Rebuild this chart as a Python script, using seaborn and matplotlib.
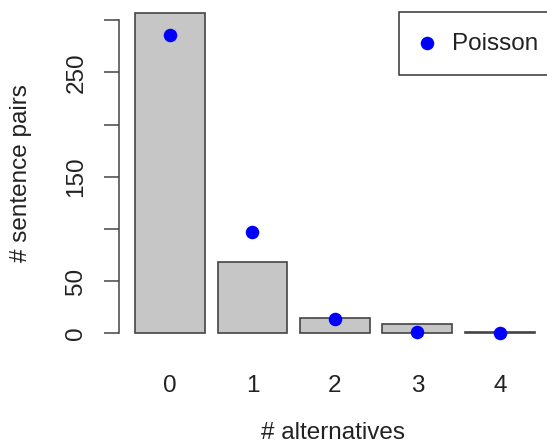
import matplotlib
matplotlib.use("Agg")
import matplotlib.pyplot as plt
import seaborn as sns
import pandas as pd

# ---- data ----
alternatives = ["0", "1", "2", "3", "4"]
observed = [307, 68, 14.5, 8.6, 1]
poisson = [286, 97, 14, 1.2, 0.1]
yticks = [0, 50, 100, 150, 200, 250, 300]
ytick_labels = ["0", "50", "", "150", "", "250", ""]

sns.set_style("white")
plt.rcParams["font.family"] = ["Liberation Sans", "DejaVu Sans"]

df_bar = pd.DataFrame({"alt": alternatives, "count": observed})
df_pts = pd.DataFrame({"alt": alternatives, "count": poisson})

W, H = 547, 446
fig = plt.figure(figsize=(W / 100, H / 100), dpi=100)
ax = fig.add_axes([119 / W, (H - 346) / H, 428 / W, 346 / H])

sns.barplot(data=df_bar, x="alt", y="count", order=alternatives, color="#c6c6c6",
            saturation=1, width=0.848, edgecolor="#444444", linewidth=1.2, ax=ax)
sns.scatterplot(data=df_pts, x="alt", y="count", color="#0000ff", s=95,
                linewidth=0, label="Poisson", ax=ax, zorder=5, legend=True)

ax.set_xlim(-0.618, 4.570)
ax.set_ylim(-12.2, 319.3)

for s in ["top", "right", "bottom"]:
    ax.spines[s].set_visible(False)
ax.spines["left"].set_bounds(0, 300)
ax.spines["left"].set_color("#444444")
ax.spines["left"].set_linewidth(1.1)

fs = 17.5
ax.set_yticks(yticks)
ax.set_yticklabels(ytick_labels, rotation=90, va="center", fontsize=fs, color="#222222")
ax.tick_params(axis="y", direction="out", length=10.8, width=1.1, color="#444444",
               pad=12, left=True)
ax.tick_params(axis="x", length=0, pad=21, labelsize=fs, labelcolor="#222222")

ax.set_xlabel("# alternatives", fontsize=fs, color="#222222", va="baseline")
ax.xaxis.set_label_coords(0.5, -0.270)
ax.set_ylabel("# sentence pairs", fontsize=fs, color="#222222", va="center", ha="center")
ax.yaxis.set_label_coords(-0.229, 0.5)

leg = ax.legend(loc="upper left", bbox_to_anchor=(399 / W, 1 - 12 / H),
                bbox_transform=fig.transFigure, borderaxespad=0, fontsize=fs,
                frameon=True, fancybox=False, framealpha=1, edgecolor="#333333",
                borderpad=0.85, handlelength=0.6, handletextpad=0.75)
leg.get_frame().set_linewidth(1.1)
for t in leg.get_texts():
    t.set_color("#222222")

fig.savefig("out.png", dpi=100)
